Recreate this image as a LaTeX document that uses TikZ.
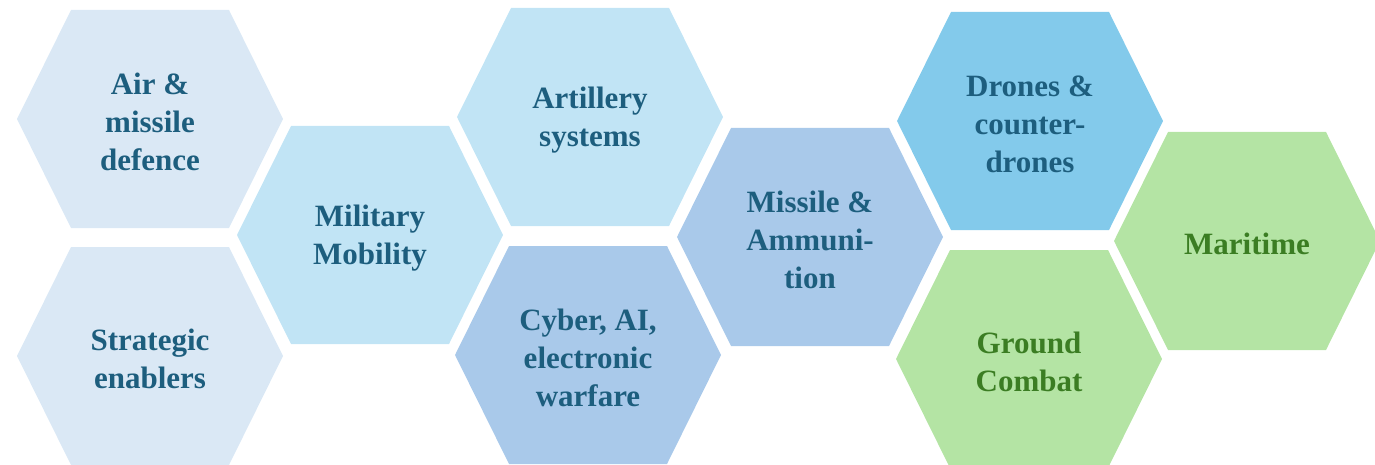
\documentclass[tikz,border=0pt]{standalone}
\usepackage{fontspec}
\setmainfont{Liberation Serif}
\definecolor{paleblue}{HTML}{DAE8F5}
\definecolor{skyblue}{HTML}{C1E4F5}
\definecolor{midblue}{HTML}{A9C9EA}
\definecolor{deepsky}{HTML}{83CAEB}
\definecolor{palegreen}{HTML}{B4E4A4}
\definecolor{inkblue}{HTML}{1D5E7E}
\definecolor{inkgreen}{HTML}{3B7D23}
\tikzset{hex text/.style={
        text=#1,
        align=center,
        yshift=-3pt,
        font=\bfseries\fontsize{31}{38}\selectfont
    }
}
% one cell: name, centre, fill, text colour, label
\newcommand{\hexcell}[5]{%
    \fill[#3] (#2) ++(-133,0) -- ++(54,-109) -- ++(158,0)
        -- ++(54,109) -- ++(-54,109) -- ++(-158,0) -- cycle;
    \node[hex text=#4] (#1) at (#2) {#5};
}

\begin{document}
\begin{tikzpicture}[x=1pt,y=-1pt]
        \clip (0,0) rectangle (1375,465);
        \useasboundingbox (0,0) rectangle (1375,465);
        % left column
        \hexcell{air}{150,119}{paleblue}{inkblue}{Air \&\\missile\\defence}
        \hexcell{enablers}{150,356}{paleblue}{inkblue}{Strategic\\enablers}
        \hexcell{mobility}{370,235}{skyblue}{inkblue}{Military\\Mobility}
        % middle
        \hexcell{artillery}{590,117}{skyblue}{inkblue}{Artillery\\systems}
        \hexcell{cyber}{588,355}{midblue}{inkblue}{Cyber, AI,\\electronic\\warfare}
        \hexcell{ammo}{810,237}{midblue}{inkblue}{Missile \&\\Ammuni-\\tion}
        % right
        \hexcell{drones}{1030,121}{deepsky}{inkblue}{Drones \&\\counter-\\drones}
        \hexcell{ground}{1029,359}{palegreen}{inkgreen}{Ground\\Combat}
        \hexcell{maritime}{1247,241}{palegreen}{inkgreen}{Maritime}
    \end{tikzpicture}
\end{document}
